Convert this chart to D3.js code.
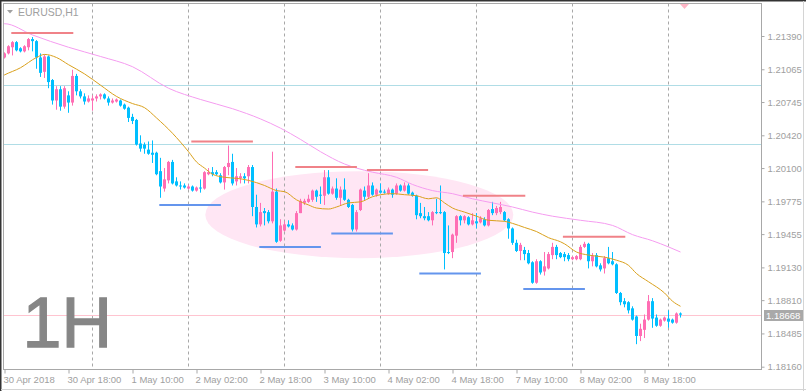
<!DOCTYPE html>
<html>
<head>
<meta charset="utf-8">
<script src="https://cdn.jsdelivr.net/npm/d3@7"></script>
<style>
  body { margin: 0; background: #fff; }
  svg { display: block; font-family: "Liberation Sans", Arial, sans-serif; }
</style>
</head>
<body>
<div id="chart"></div>
<script>
// EURUSD H1 bars, 30 Apr 02:00 .. 9 May 01:00
const open = [
  1.2118,1.2122,1.2128,1.2133,1.2127,1.2124,1.2128,1.2136,1.2134,1.2118,
  1.2104,1.2119,1.2096,1.2076,1.2087,1.2070,1.2081,1.2074,1.2100,1.2085,
  1.2080,1.2075,1.2076,1.2078,1.2080,1.2082,1.2078,1.2074,1.2075,1.2076,
  1.2072,1.2069,1.2060,1.2057,1.2034,1.2033,1.2028,1.2025,1.2025,1.2007,
  1.1990,1.1998,1.2016,1.1997,1.1993,1.1993,1.1990,1.1992,1.1988,1.1991,
  1.1990,1.2004,1.2006,1.2006,1.2003,1.1996,1.2011,1.2016,1.1997,1.2000,
  1.2002,1.2002,1.2011,1.1972,1.1955,1.1968,1.1967,1.1958,1.1987,1.1939,
  1.1949,1.1955,1.1954,1.1950,1.1966,1.1976,1.1977,1.1979,1.1988,1.1984,
  1.1983,1.2001,1.1985,1.1990,1.1981,1.1989,1.1979,1.1974,1.1950,1.1969,
  1.1988,1.1982,1.1993,1.1984,1.1988,1.1987,1.1985,1.1989,1.1985,1.1993,
  1.1988,1.1993,1.1986,1.1983,1.1966,1.1963,1.1963,1.1959,1.1967,1.1967,
  1.1967,1.1928,1.1928,1.1944,1.1963,1.1959,1.1962,1.1955,1.1958,1.1957,
  1.1960,1.1954,1.1970,1.1966,1.1967,1.1967,1.1960,1.1951,1.1937,1.1929,
  1.1930,1.1927,1.1918,1.1898,1.1919,1.1909,1.1912,1.1925,1.1933,1.1927,
  1.1926,1.1925,1.1921,1.1921,1.1921,1.1933,1.1936,1.1919,1.1925,1.1915,
  1.1912,1.1922,1.1919,1.1916,1.1888,1.1880,1.1879,1.1873,1.1865,1.1846,
  1.1852,1.1862,1.1880,1.1864,1.1856,1.1861,1.1863,1.1862,1.1859,1.1868
];
const high = [
  1.2123,1.2130,1.2134,1.2134,1.2128,1.2130,1.2137,1.2138,1.2135,1.2122,
  1.2121,1.2120,1.2097,1.2090,1.2090,1.2090,1.2085,1.2106,1.2102,1.2087,
  1.2083,1.2081,1.2081,1.2082,1.2083,1.2083,1.2080,1.2078,1.2078,1.2077,
  1.2073,1.2070,1.2063,1.2058,1.2042,1.2035,1.2036,1.2037,1.2026,1.2020,
  1.2010,1.2017,1.2018,1.2001,1.1997,1.1995,1.1994,1.1993,1.1992,1.1999,
  1.2007,1.2010,1.2011,1.2008,1.2005,1.2012,1.2032,1.2024,1.2010,1.2005,
  1.2005,1.2013,1.2013,1.1984,1.1976,1.1971,1.1969,1.2026,1.1990,1.1960,
  1.1958,1.1959,1.1956,1.1968,1.1980,1.1980,1.1984,1.1989,1.1989,1.1992,
  1.2008,1.2008,1.1992,1.2000,1.1992,1.2000,1.1980,1.1975,1.1969,1.1990,
  1.1992,1.2005,1.1996,1.1990,1.1995,1.1989,1.1991,1.1990,1.1995,1.1994,
  1.1996,1.1995,1.1987,1.1984,1.1976,1.1972,1.1967,1.1968,1.1980,1.1993,
  1.1968,1.1954,1.1946,1.1964,1.1964,1.1964,1.1963,1.1966,1.1966,1.1963,
  1.1962,1.1970,1.1977,1.1973,1.1977,1.1968,1.1961,1.1952,1.1940,1.1937,
  1.1933,1.1930,1.1919,1.1921,1.1920,1.1928,1.1928,1.1937,1.1935,1.1928,
  1.1928,1.1927,1.1924,1.1925,1.1935,1.1938,1.1937,1.1927,1.1927,1.1917,
  1.1924,1.1933,1.1928,1.1917,1.1889,1.1883,1.1880,1.1875,1.1866,1.1858,
  1.1867,1.1886,1.1883,1.1867,1.1863,1.1865,1.1871,1.1863,1.1869,1.1869
];
const low = [
  1.2117,1.2121,1.2120,1.2124,1.2123,1.2123,1.2125,1.2124,1.2107,1.2099,
  1.2098,1.2088,1.2072,1.2067,1.2066,1.2068,1.2064,1.2071,1.2081,1.2078,
  1.2072,1.2074,1.2066,1.2075,1.2077,1.2077,1.2071,1.2073,1.2074,1.2070,
  1.2067,1.2055,1.2053,1.2032,1.2026,1.2024,1.2023,1.2015,1.2003,1.1981,
  1.1987,1.1995,1.1994,1.1992,1.1989,1.1990,1.1989,1.1987,1.1987,1.1986,
  1.1989,1.2003,1.2002,1.2003,1.1995,1.1989,1.2003,1.1993,1.1993,1.1995,
  1.1995,1.1995,1.1963,1.1952,1.1953,1.1954,1.1956,1.1956,1.1937,1.1938,
  1.1948,1.1952,1.1949,1.1949,1.1966,1.1974,1.1976,1.1977,1.1977,1.1975,
  1.1974,1.1984,1.1984,1.1979,1.1974,1.1978,1.1971,1.1948,1.1948,1.1968,
  1.1979,1.1980,1.1983,1.1982,1.1985,1.1985,1.1984,1.1981,1.1984,1.1987,
  1.1987,1.1984,1.1982,1.1960,1.1961,1.1959,1.1958,1.1954,1.1965,1.1965,
  1.1911,1.1926,1.1922,1.1937,1.1954,1.1956,1.1954,1.1954,1.1951,1.1956,
  1.1953,1.1953,1.1964,1.1964,1.1965,1.1958,1.1941,1.1935,1.1928,1.1920,
  1.1920,1.1916,1.1897,1.1897,1.1906,1.1905,1.1911,1.1921,1.1921,1.1922,
  1.1919,1.1919,1.1920,1.1920,1.1920,1.1932,1.1912,1.1914,1.1913,1.1909,
  1.1907,1.1916,1.1915,1.1887,1.1876,1.1874,1.1868,1.1861,1.1838,1.1841,
  1.1844,1.1861,1.1854,1.1855,1.1855,1.1860,1.1854,1.1858,1.1858,1.1864
];
const close = [
  1.2122,1.2129,1.2133,1.2125,1.2124,1.2129,1.2136,1.2134,1.2118,1.2103,
  1.2119,1.2094,1.2076,1.2087,1.2070,1.2088,1.2074,1.2100,1.2085,1.2080,
  1.2075,1.2078,1.2078,1.2080,1.2082,1.2078,1.2074,1.2076,1.2077,1.2071,
  1.2068,1.2059,1.2056,1.2033,1.2029,1.2029,1.2024,1.2023,1.2004,1.1992,
  1.1999,1.2016,1.1995,1.1993,1.1992,1.1991,1.1992,1.1988,1.1991,1.1990,
  1.2006,1.2006,1.2004,1.2004,1.1996,1.2011,1.2015,1.1995,1.2002,1.2002,
  1.2000,1.2011,1.1972,1.1955,1.1967,1.1966,1.1958,1.1987,1.1938,1.1954,
  1.1955,1.1953,1.1950,1.1966,1.1978,1.1978,1.1980,1.1988,1.1982,1.1983,
  1.2001,1.1985,1.1990,1.1981,1.1989,1.1979,1.1972,1.1950,1.1967,1.1989,
  1.1982,1.1993,1.1984,1.1989,1.1986,1.1986,1.1989,1.1984,1.1993,1.1988,
  1.1993,1.1985,1.1983,1.1964,1.1963,1.1961,1.1959,1.1967,1.1966,1.1966,
  1.1927,1.1927,1.1945,1.1963,1.1959,1.1963,1.1955,1.1959,1.1956,1.1961,
  1.1954,1.1969,1.1966,1.1971,1.1972,1.1959,1.1951,1.1937,1.1929,1.1935,
  1.1926,1.1917,1.1898,1.1919,1.1908,1.1914,1.1926,1.1933,1.1925,1.1923,
  1.1923,1.1921,1.1923,1.1924,1.1933,1.1936,1.1919,1.1924,1.1914,1.1911,
  1.1922,1.1917,1.1916,1.1888,1.1879,1.1877,1.1871,1.1862,1.1846,1.1853,
  1.1862,1.1880,1.1863,1.1856,1.1862,1.1864,1.1860,1.1859,1.1868,1.18668
];

// moving averages: [bar index, price]
const maFast = [
  [0,1.2101],[4,1.2108],[8,1.2118],[10,1.2121],[13,1.2118],[16,1.2111],[20,1.2102],
  [24,1.2091],[28,1.2080],[32,1.2073],[35,1.2069],[38,1.2059],[42,1.2044],[46,1.2026],
  [48,1.2016],[50,1.2010],[52,1.2004],[55,1.2001],[58,1.2000],[61,1.1998],[65,1.1993],
  [68,1.1988],[70,1.1987],[73,1.1979],[76,1.1974],[78,1.1971],[81,1.1970],[83,1.1972],
  [86,1.1976],[89,1.1977],[92,1.1982],[94,1.1984],[97,1.1985],[100,1.1984],[103,1.1983],
  [106,1.1980],[108,1.1981],[110,1.1976],[112,1.1971],[115,1.1967],[118,1.1963],
  [121,1.1959],[125,1.1958],[127,1.1956],[130,1.1952],[133,1.1948],[136,1.1942],
  [139,1.1938],[140,1.1936],[143,1.1928],[146,1.1925],[150,1.1923],[153,1.1920],
  [156,1.1915],[158,1.1907],[161,1.1899],[165,1.1888],[167,1.1880],[169,1.1875]
];
const maSlow = [
  [0,1.2151],[7,1.2140],[16,1.2128],[24,1.2119],[32,1.2109],[41,1.2088],[49,1.2077],
  [57,1.2068],[64,1.2058],[69,1.2049],[74,1.2038],[79,1.2026],[85,1.2014],[88,1.2010],
  [92,1.2006],[98,1.2001],[102,1.1994],[107,1.1988],[112,1.1985],[117,1.1980],
  [122,1.1976],[127,1.1972],[132,1.1967],[137,1.1963],[144,1.1959],[152,1.1954],
  [157,1.1945],[162,1.1939],[166,1.1933],[169,1.1928]
];

// drawn objects: [from bar, to bar, price]
const resistance = [
  [1.7,17.2,1.2142],[46.7,62.1,1.2036],[72.7,88.1,1.2011],
  [90.6,105.9,1.2008],[114.6,130.2,1.1983],[139.6,155.2,1.1943]
];
const support = [
  [38.7,54.1,1.1974],[63.7,79.1,1.1933],[81.7,97.1,1.1946],
  [103.7,119.1,1.1907],[129.7,145.1,1.1892]
];
const hLevels = [1.2091, 1.2034];
const bid = 1.18668;
const zone = { from: 50.2, to: 127.2, top: 1.2007, bottom: 1.1922 };

const priceTicks = [1.21390,1.21065,1.20745,1.20420,1.20100,1.19775,1.19455,1.19130,1.18810,1.18485,1.18160];
const timeTicks = [
  [0,"30 Apr 2018"],[16,"30 Apr 18:00"],[32,"1 May 10:00"],[48,"2 May 02:00"],
  [64,"2 May 18:00"],[80,"3 May 10:00"],[96,"4 May 02:00"],[112,"4 May 18:00"],
  [128,"7 May 10:00"],[144,"8 May 02:00"],[160,"8 May 18:00"]
];
const dayStarts = [22,46,70,94,118,142,166];

const W = 806, H = 391;
const plot = { left: 3.5, top: 3.5, right: 761.5, bottom: 369.5 };
const bull = "#ff6eb4", bear = "#00bfff";

const x = d3.scaleLinear().domain([0, 169]).range([4.5, 680.5]);
const y = d3.scaleLinear().domain([1.18160, 1.21390]).range([366.7, 36]);

const svg = d3.select("#chart").append("svg").attr("width", W).attr("height", H);

svg.append("rect").attr("width", W).attr("height", H).attr("fill", "#fff");

svg.append("defs").append("clipPath").attr("id", "plotclip")
  .append("rect").attr("x", plot.left).attr("y", plot.top)
  .attr("width", plot.right - plot.left).attr("height", plot.bottom - plot.top);

const g = svg.append("g").attr("clip-path", "url(#plotclip)");

// background ellipse
g.append("ellipse")
  .attr("cx", (x(zone.from) + x(zone.to)) / 2)
  .attr("cy", (y(zone.top) + y(zone.bottom)) / 2)
  .attr("rx", (x(zone.to) - x(zone.from)) / 2)
  .attr("ry", (y(zone.bottom) - y(zone.top)) / 2)
  .attr("fill", "#ffe6f4");

// day separators
g.selectAll(".vgrid").data(dayStarts).enter().append("line")
  .attr("x1", d => x(d)).attr("x2", d => x(d))
  .attr("y1", plot.top).attr("y2", plot.bottom)
  .attr("stroke", "#a8a8a8").attr("stroke-dasharray", "3,3");

// horizontal lines
g.selectAll(".hl").data(hLevels).enter().append("line")
  .attr("x1", plot.left).attr("x2", plot.right)
  .attr("y1", d => Math.round(y(d)) + 0.5).attr("y2", d => Math.round(y(d)) + 0.5)
  .attr("stroke", "#b0dde6");
g.append("line")
  .attr("x1", plot.left).attr("x2", plot.right)
  .attr("y1", Math.round(y(bid)) + 0.5).attr("y2", Math.round(y(bid)) + 0.5)
  .attr("stroke", "#ffc4d0");

// "1H" label
g.append("text").attr("x", 22.5).attr("y", 346.5)
  .attr("font-size", 70).attr("fill", "#868686")
  .attr("stroke", "#868686").attr("stroke-width", 1.3).text("1H");

// candles
const bars = d3.range(open.length);
const cg = g.append("g");
cg.selectAll(".wick").data(bars).enter().append("line")
  .attr("x1", i => x(i)).attr("x2", i => x(i))
  .attr("y1", i => y(high[i])).attr("y2", i => y(low[i]))
  .attr("stroke", i => close[i] >= open[i] ? bull : bear);
cg.selectAll(".body").data(bars).enter().append("rect")
  .attr("x", i => x(i) - 1.5).attr("width", 3)
  .attr("y", i => y(Math.max(open[i], close[i])))
  .attr("height", i => Math.max(1, Math.abs(y(open[i]) - y(close[i]))))
  .attr("fill", i => close[i] >= open[i] ? bull : bear);

// moving averages
const maLine = d3.line().x(d => x(d[0])).y(d => y(d[1])).curve(d3.curveMonotoneX);
g.append("path").datum([[-0.5, maSlow[0][1]]].concat(maSlow)).attr("d", maLine)
  .attr("fill", "none").attr("stroke", "#f59cf0").attr("stroke-width", 1);
g.append("path").datum([[-0.5, maFast[0][1] - 0.0001]].concat(maFast)).attr("d", maLine)
  .attr("fill", "none").attr("stroke", "#d9a01c").attr("stroke-width", 1);

// level segments
g.selectAll(".res").data(resistance).enter().append("line")
  .attr("x1", d => x(d[0])).attr("x2", d => x(d[1]))
  .attr("y1", d => y(d[2])).attr("y2", d => y(d[2]))
  .attr("stroke", "#f08288").attr("stroke-width", 2);
g.selectAll(".sup").data(support).enter().append("line")
  .attr("x1", d => x(d[0])).attr("x2", d => x(d[1]))
  .attr("y1", d => y(d[2])).attr("y2", d => y(d[2]))
  .attr("stroke", "#6495ed").attr("stroke-width", 2);

// chart shift marker
const sx = x(open.length);
svg.append("path").attr("d", `M${sx - 4.5},4 L${sx + 4.5},4 L${sx},9 Z`).attr("fill", "#ffb6c6");

// plot frame
svg.append("rect").attr("x", plot.left).attr("y", plot.top)
  .attr("width", plot.right - plot.left).attr("height", plot.bottom - plot.top)
  .attr("fill", "none").attr("stroke", "#a8a8a8");

// price axis
const yAxis = svg.append("g").attr("transform", `translate(${plot.right},0)`)
  .call(d3.axisRight(y).tickValues(priceTicks).tickSize(3).tickPadding(3).tickFormat(d3.format(".5f")));
yAxis.select(".domain").remove();
yAxis.selectAll("line").attr("stroke", "#a8a8a8");
yAxis.selectAll("text").attr("fill", "#a0a0a0").attr("font-size", 9.5)
  .attr("font-family", "'Liberation Sans', Arial, sans-serif");

// time axis
const tickLabel = new Map(timeTicks);
const xAxis = svg.append("g").attr("transform", `translate(0,${plot.bottom})`)
  .call(d3.axisBottom(x).tickValues(timeTicks.map(d => d[0])).tickSize(4).tickPadding(3)
    .tickFormat(i => tickLabel.get(i)));
xAxis.select(".domain").remove();
xAxis.selectAll("line").attr("stroke", "#a8a8a8");
xAxis.selectAll("text").attr("fill", "#a0a0a0").attr("font-size", 9.5)
  .attr("text-anchor", "start").attr("dx", -1.5)
  .attr("font-family", "'Liberation Sans', Arial, sans-serif");

// bid price tag
const by = Math.round(y(bid));
svg.append("rect").attr("x", 764).attr("y", by - 5).attr("width", 39).attr("height", 11).attr("fill", "#a9a9a9");
svg.append("text").attr("x", 766).attr("y", by + 3.5).attr("font-size", 9.5)
  .attr("fill", "#fff").text(d3.format(".5f")(bid));

// title
svg.append("path").attr("d", "M7,10 L13,10 L10,13.5 Z").attr("fill", "#a0a0a0");
svg.append("text").attr("x", 18).attr("y", 15.5).attr("font-size", 10.5)
  .attr("fill", "#a0a0a0").text("EURUSD,H1");

// window border
svg.append("line").attr("x1", 0).attr("x2", W).attr("y1", 0.5).attr("y2", 0.5).attr("stroke", "#333").attr("stroke-width", 2);
svg.append("line").attr("x1", 0.5).attr("x2", 0.5).attr("y1", 0).attr("y2", H).attr("stroke", "#333").attr("stroke-width", 2);
svg.append("line").attr("x1", W - 2.5).attr("x2", W - 2.5).attr("y1", 1).attr("y2", H).attr("stroke", "#d4d4d4");
svg.append("line").attr("x1", 1).attr("x2", W).attr("y1", H - 1.5).attr("y2", H - 1.5).attr("stroke", "#d4d4d4");
</script>
</body>
</html>
